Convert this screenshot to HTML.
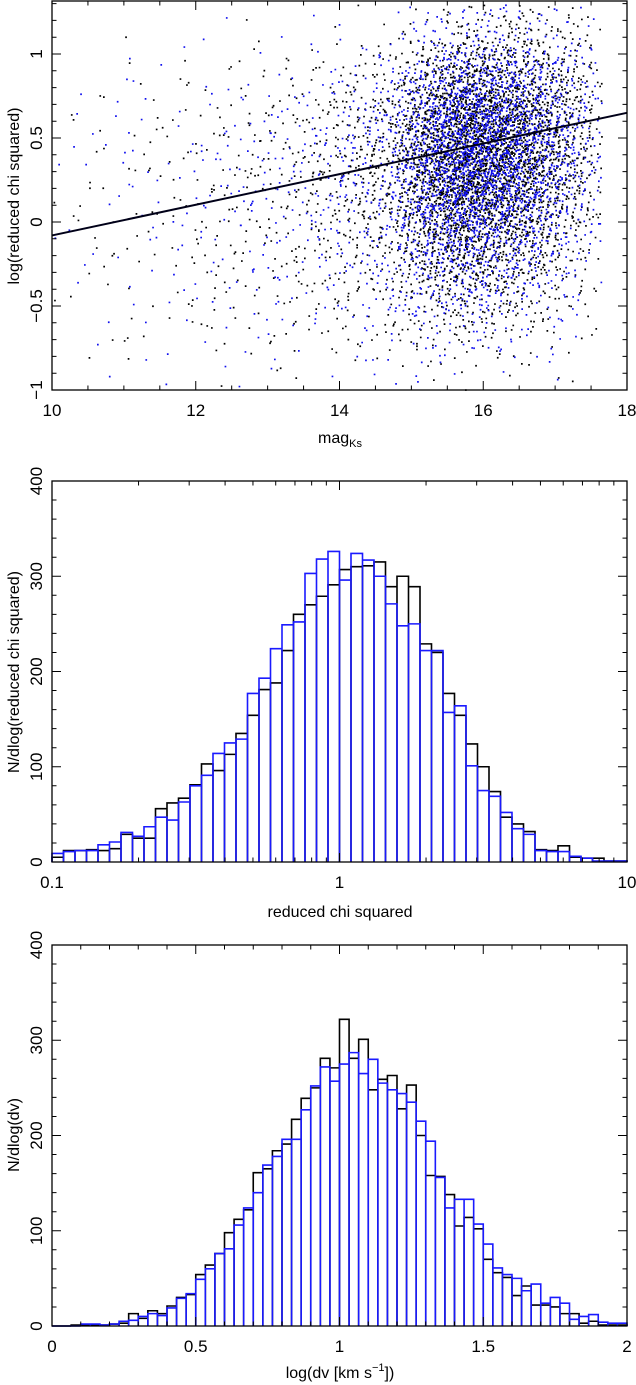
<!DOCTYPE html>
<html><head><meta charset="utf-8">
<style>
html,body{margin:0;padding:0;background:#fff;}
svg{display:block;font-family:"Liberation Sans",sans-serif;}
text{fill:#000;}
</style></head>
<body>
<svg id="fig" width="636" height="1385" viewBox="0 0 636 1385" xmlns="http://www.w3.org/2000/svg">
<g id="p1"></g>
<g id="p2"></g>
<g id="p3"></g>
</svg>
<script>
// ---- Scatter density grid (counts per 0.5 mag x 0.25 dex cell)
const magBins = [10,10.5,11,11.5,12,12.5,13,13.5,14,14.5,15,15.5,16,16.5,17,17.5];
const chiRows = [1.0,0.75,0.5,0.25,0,-0.25,-0.5,-0.75,-1.0];
const densRow0 = [0,0,2,1,2,2,2,3,5,10,35,70,70,55,35,4];
const densRow1 = [1,2,3,4,5,6,10,15,25,45,140,230,210,150,80,6];
const densRow2 = [3,4,6,8,10,15,20,30,50,90,280,440,400,260,120,8];
const densRow3 = [4,6,8,10,15,20,25,40,60,100,320,520,440,280,120,8];
const densRow4 = [4,5,8,10,15,20,25,35,55,90,270,420,330,210,90,6];
const densRow5 = [3,5,7,10,12,15,20,30,40,65,170,240,185,120,50,4];
const densRow6 = [2,4,6,8,10,12,15,20,25,40,90,120,90,60,28,2];
const densRow7 = [2,3,4,6,7,8,10,12,15,22,35,42,32,20,10,1];
const densRow8 = [1,1,2,2,2,3,3,4,4,5,7,8,6,3,2,0];
const fitLine = [[10,-0.08],[18,0.65]];
// ---- Histogram 1: reduced chi squared, 50 log bins 0.1..10
const chiBlack = [5,12,12,13,12,14,29,25,25,56,62,67,81,103,96,113,135,154,181,188,222,260,270,279,291,307,310,311,315,289,300,289,229,220,177,154,124,100,74,47,40,32,13,12,17,5,4,4,1,1];
const chiBlue  = [9,11,12,12,18,21,31,27,37,47,44,63,80,91,114,125,129,177,193,224,249,252,303,318,326,296,324,317,300,271,248,250,222,222,157,164,101,75,69,52,35,29,12,11,11,6,4,1,1,1];
// ---- Histogram 2: log dv, 60 bins 0..2
const dvBlack = [0,0,1,1,1,1,2,3,13,8,16,13,21,30,33,54,64,76,98,112,122,161,165,184,191,217,239,250,281,271,322,281,301,248,259,263,228,253,200,158,157,138,105,114,102,70,56,51,32,42,22,22,20,13,13,3,5,1,1,1];
const dvBlue  = [0,0,0,2,2,1,2,5,6,10,13,11,19,29,34,49,60,76,81,106,124,140,169,178,196,196,227,252,272,257,275,287,265,280,255,248,244,235,215,194,156,124,133,133,107,86,61,54,50,37,44,24,30,24,7,10,12,4,3,3];

const NS="http://www.w3.org/2000/svg";
function el(tag,attrs,parent){const e=document.createElementNS(NS,tag);for(const k in attrs)e.setAttribute(k,attrs[k]);parent.appendChild(e);return e;}
const X0=52,X1=627;

function frameAndTicks(g,top,bot,xTicksMaj,xTicksMin,xs,yTicksMaj,yTicksMin,ys,xLabels,yLabels){
  const f=el('rect',{x:X0,y:top,width:X1-X0,height:bot-top,fill:'none',stroke:'#000','stroke-width':1.3},g);
  
  
  let d='';
  xTicksMaj.forEach(v=>{const x=xs(v);d+=`M${x},${bot}v-9M${x},${top}v9`;});
  xTicksMin.forEach(v=>{const x=xs(v);d+=`M${x},${bot}v-4.5M${x},${top}v4.5`;});
  yTicksMaj.forEach(v=>{const y=ys(v);d+=`M${X0},${y}h9M${X1},${y}h-9`;});
  yTicksMin.forEach(v=>{const y=ys(v);d+=`M${X0},${y}h4.5M${X1},${y}h-4.5`;});
  const t=el('path',{d:d,stroke:'#000','stroke-width':1,fill:'none'},g);
  
  
  xTicksMaj.forEach((v,i)=>{const tx=el('text',{x:xs(v),y:bot+26,'font-size':17,'text-anchor':'middle'},g);tx.textContent=xLabels[i];
    
    });
  yTicksMaj.forEach((v,i)=>{const y=ys(v);const tx=el('text',{x:0,y:0,'font-size':17,'text-anchor':'middle',transform:`translate(42,${y}) rotate(-90)`},g);tx.textContent=yLabels[i];
    
    });
}
function range(a,b,s){const r=[];for(let v=a;v<=b+1e-9;v+=s)r.push(+v.toFixed(6));return r;}

// ===== Panel 1 scatter
(function(){
  const g=document.getElementById('p1');
  const top=1,bot=390;
  const xs=v=>X0+(v-10)/8*(X1-X0);
  const ys=v=>222-v*168;
  const rows=[densRow0,densRow1,densRow2,densRow3,densRow4,densRow5,densRow6,densRow7,densRow8];
  const rowTop=[1.3,1.0,0.75,0.5,0.25,0,-0.25,-0.5,-0.75];
  const rowBot=[1.0,0.75,0.5,0.25,0,-0.25,-0.5,-0.75,-1.0];
  function halton(i,b){let f=1,r=0;while(i>0){f/=b;r+=f*(i%b);i=Math.floor(i/b);}return r;}
  let dB='',dK='',idx=1;
  rows.forEach((row,ri)=>{
    const y1=rowTop[ri], y0=rowBot[ri];
    row.forEach((n,ci)=>{
      const m0=magBins[ci];
      for(let k=0;k<n;k++){
        // triangular spread over two cell widths for smooth density (centered on cell)
        const u=(halton(idx,2)+halton(idx,7))-1, w=(halton(idx,3)+halton(idx,11))-1;idx++;
        const mv=m0+0.25+u*0.5, cv=(y0+y1)/2+w*(y1-y0);
        if(mv<10||mv>17.65||cv<-1||cv>1.3) continue;
        const px=xs(mv), py=ys(cv);
        const s=`M${px.toFixed(1)},${py.toFixed(1)}h1.7v1.7h-1.7z`;
        if(halton(idx,5)<0.42) dB+=s; else dK+=s;
      }
    });
  });
  const pk=el('path',{d:dK,fill:'#000'},g);
  
  
  const pb=el('path',{d:dB,fill:'#1010ee'},g);
  
  
  const ln=el('line',{x1:xs(fitLine[0][0]),y1:ys(fitLine[0][1]),x2:xs(fitLine[1][0]),y2:ys(fitLine[1][1]),stroke:'#000018','stroke-width':2},g);
  
  
  frameAndTicks(g,top,bot,[10,12,14,16,18],range(10,18,0.5),xs,[-1,-0.5,0,0.5,1],range(-1,1.3,0.1),ys,
    ['10','12','14','16','18'],['\u22121','\u22120.5','0','0.5','1']);
  const xt=el('text',{x:340,y:443,'font-size':16,'text-anchor':'middle'},g);
  xt.innerHTML='mag<tspan font-size="11" dy="4">Ks</tspan>';
  
  
  const yt=el('text',{x:0,y:0,'font-size':16,'text-anchor':'middle',transform:'translate(19,196) rotate(-90)'},g);
  yt.textContent='log(reduced chi squared)';
  
  
})();

function histPanel(g,top,bot,xs,xmin,bw,black,blue,xMaj,xMin,xLabels,xTitle,yTitle,yTitleY,xTitleY){
  const ys=v=>bot-v/400*(bot-top);
  function steps(arr){let d='';arr.forEach((v,i)=>{const a=xs(xmin+i*bw),b=xs(xmin+(i+1)*bw);d+=`M${a},${bot}V${ys(v)}H${b}V${bot}`;});return d;}
  const pk=el('path',{d:steps(black),fill:'none',stroke:'#000','stroke-width':1.6},g);
  
  
  const pb=el('path',{d:steps(blue),fill:'none',stroke:'#1a1aff','stroke-width':1.6},g);
  
  
  frameAndTicks(g,top,bot,xMaj,xMin,xs,[0,100,200,300,400],range(0,400,20),ys,xLabels,['0','100','200','300','400']);
  const xt=el('text',{x:340,y:xTitleY,'font-size':16,'text-anchor':'middle'},g);
  xt.innerHTML=xTitle;
  
  
  const yt=el('text',{x:0,y:0,'font-size':16,'text-anchor':'middle',transform:`translate(19,${yTitleY}) rotate(-90)`},g);
  yt.textContent=yTitle;
  
  
}
// ===== Panel 2
(function(){
  const g=document.getElementById('p2');
  const xs=v=>X0+(v+1)/2*(X1-X0); // v = log10(chi)
  const minor=[];[-1,0].forEach(d=>{for(let k=2;k<=9;k++)minor.push(d+Math.log10(k));});
  histPanel(g,481,862,xs,-1,2/50,chiBlack,chiBlue,[-1,0,1],minor,['0.1','1','10'],'reduced chi squared','N/dlog(reduced chi squared)',672,917);
})();
// ===== Panel 3
(function(){
  const g=document.getElementById('p3');
  const xs=v=>X0+v/2*(X1-X0);
  histPanel(g,945,1326,xs,0,2/60,dvBlack,dvBlue,[0,0.5,1,1.5,2],range(0,2,0.1),['0','0.5','1','1.5','2'],
    'log(dv [km s<tspan font-size="11" dy="-7">\u22121</tspan><tspan dy="7">])</tspan>','N/dlog(dv)',1135,1378);
})();
</script>
</body></html>
